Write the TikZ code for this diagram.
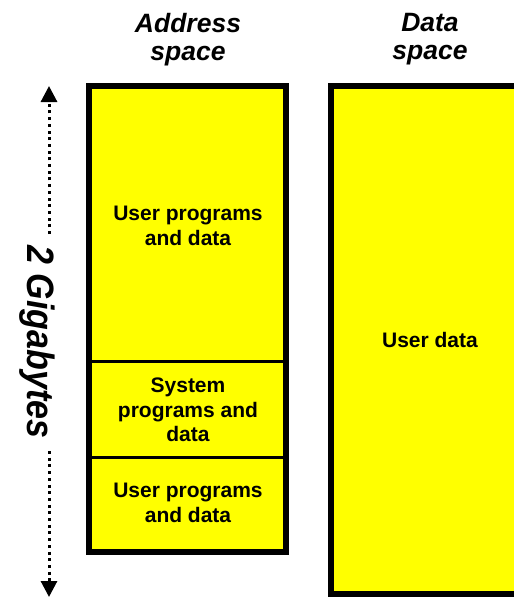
\documentclass[tikz,border=0pt]{standalone}
\usepackage{fontspec}
\setmainfont{Liberation Sans}
\usetikzlibrary{arrows.meta}
\definecolor{boxyellow}{RGB}{255,255,0}
\tikzset{
  heading/.style={font=\bfseries\itshape\fontsize{26.5}{28}\selectfont, align=center, inner sep=0pt},
  boxtext/.style={font=\bfseries\fontsize{21}{24.6}\selectfont, align=center, inner sep=0pt},
  gigtext/.style={font=\bfseries\itshape\fontsize{34}{36}\selectfont, inner sep=0pt, rotate=-90},
  memfill/.style={fill=boxyellow},
  memborder/.style={draw=black, line width=6pt},
  divider/.style={draw=black, line width=3pt},
  dotline/.style={draw=black, line width=3pt, dash pattern=on 3pt off 3.7pt, -{Triangle[width=16pt,length=16pt]}}
}
\begin{document}
\begin{tikzpicture}[x=1pt,y=-1pt]
\useasboundingbox (0,0) rectangle (514,597);
\begin{scope}
\clip (0,0) rectangle (514,597);
% headings
\node[heading] (haddr) at (188,39.5) {Address\\space};
\node[heading] (hdata) at (430,39.5) {Data\\space};
% left box (address space)
\fill[memfill] (89,86) rectangle (286,552);
\coordinate (d1l) at (86,361.5);
\coordinate (d1r) at (286,361.5);
\coordinate (d2l) at (86,457.5);
\coordinate (d2r) at (286,457.5);
\draw[divider] (d1l) -- (d1r);
\draw[divider] (d2l) -- (d2r);
\draw[memborder] (89,86) rectangle (286,552);
\node[boxtext] (user1) at (188,226) {User programs\\and data};
\node[boxtext] (sys) at (188,410) {System\\programs and\\data};
\node[boxtext] (user2) at (188,503) {User programs\\and data};
% right box (data space)
\fill[memfill] (331,86) rectangle (545,594);
\draw[memborder] (331,86) rectangle (545,594);
\node[boxtext] (udata) at (430,340) {User data};
% size arrow
\node[gigtext] (gig) at (37,342) {\scalebox{1}[1.12]{2 Gigabytes}};
\coordinate (gtop) at (49,234);
\coordinate (gbot) at (49,451);
\coordinate (atop) at (49,86);
\coordinate (abot) at (49,597);
\draw[dotline] (gtop) -- (atop);
\draw[dotline] (gbot) -- (abot);
\end{scope}
\end{tikzpicture}
\end{document}
